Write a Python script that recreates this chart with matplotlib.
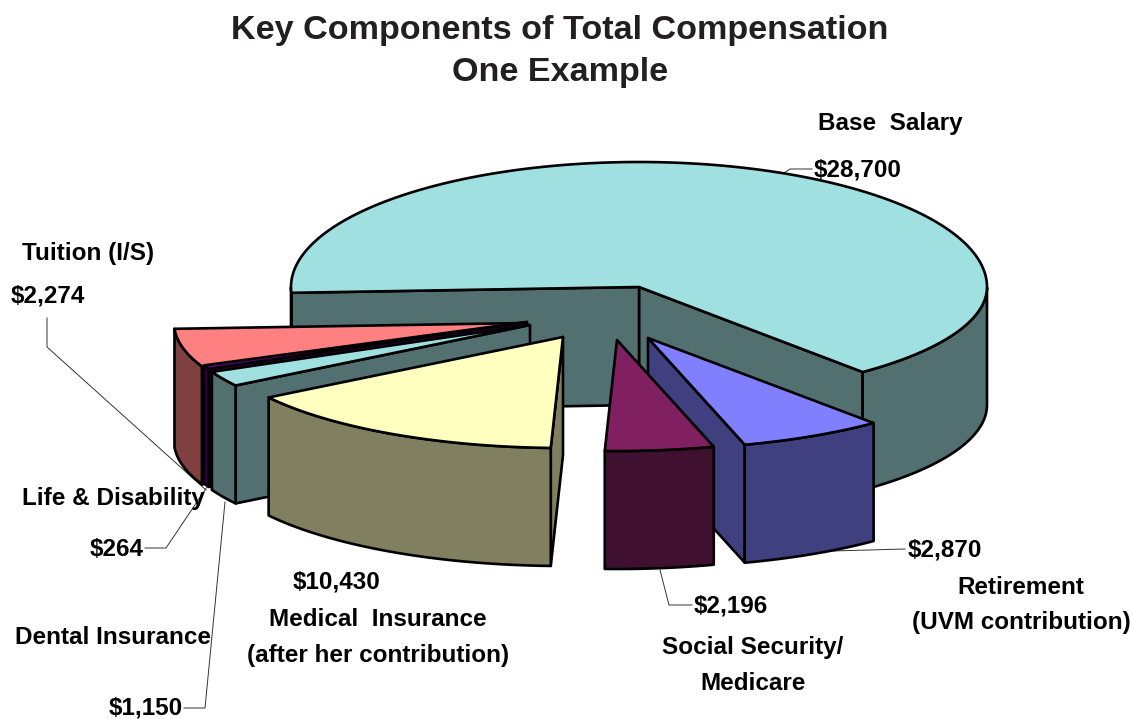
import numpy as np
import matplotlib
matplotlib.use("Agg")
import matplotlib.pyplot as plt
from matplotlib.patches import Polygon

plt.rcParams['font.family'] = ['Liberation Sans', 'DejaVu Sans']

# slices, clockwise from the back-left edge of the base salary wedge
categories = ["Base  Salary", "Retirement\n(UVM contribution)", "Social Security/\nMedicare",
              "Medical  Insurance\n(after her contribution)", "Dental Insurance",
              "Life & Disability", "Tuition (I/S)"]
dollars = [28700, 2870, 2196, 10430, 1150, 264, 2274]
# the wedges in the picture are not quite proportional to the dollars, so the
# widths are read off the picture separately (degrees)
sweep_deg = [233, 24, 18, 55, 8, 2, 20]

top_colors = ["#A0E0E0", "#8080FF", "#802060", "#FFFFC0", "#A0E0E0", "#600080", "#FF8080"]
side_colors = ["#527070", "#404080", "#401030", "#808060", "#527070", "#300040", "#804040"]

# shift of each wedge away from the pie centre, pixels
explode_x = [0, 9, -22, -76, -109, -112, -114]
explode_y = [0, 51, 53, 50, 38, 35, 36]

center_x, center_y = 639, 287
semi_x = 348
semi_x_exploded = 351
semi_back = 125
semi_front = 111
depth = 118
start_deg = -50
edge_width = 1.9
# painter's order
draw_order = [0, 6, 5, 4, 3, 1, 2]


def rim(angle, ox, oy, a):
    # point on the projected pie rim, angle in radians
    s = np.sin(angle)
    b = np.where(s > 0, semi_back, semi_front)
    return ox + a * np.cos(angle), oy - b * s


def face(ax, pts, color, z):
    ax.add_patch(Polygon(pts, closed=True, facecolor=color, edgecolor="black",
                         linewidth=edge_width, joinstyle="round", zorder=z))


def draw_slice(ax, i, a0, a1, z):
    ox = center_x + explode_x[i]
    oy = center_y + explode_y[i]
    a = semi_x if i == 0 else semi_x_exploded
    th = np.radians(np.linspace(a0, a1, 240))
    xs, ys = rim(th, ox, oy, a)

    # cut faces, skipping the one that looks away from the viewer
    ends = [(xs[0], ys[0], xs[-1]), (xs[-1], ys[-1], xs[0])]
    for k, (x, y, other_x) in enumerate(ends):
        other_y = ys[-1] if k == 0 else ys[0]
        cross_down = x - ox
        cross_other = (x - ox) * (other_y - oy) - (y - oy) * (other_x - ox)
        if abs(a1 - a0) < 180 and cross_down * cross_other > 0:
            continue
        face(ax, [(ox, oy), (x, y), (x, y + depth), (ox, oy + depth)], side_colors[i], z)

    # outer wall, one polygon per run of the rim on the front of the pie
    front = np.sin(th) <= 0
    cuts = np.flatnonzero(np.diff(front.astype(int))) + 1
    for run in np.split(np.arange(len(th)), cuts):
        if front[run[0]] and len(run) > 1:
            fx, fy = xs[run], ys[run]
            wall = np.column_stack([np.r_[fx, fx[::-1]], np.r_[fy, (fy + depth)[::-1]]])
            face(ax, wall, side_colors[i], z + 0.1)

    # top
    face(ax, np.column_stack([np.r_[ox, xs], np.r_[oy, ys]]), top_colors[i], z + 0.2)


fig = plt.figure(figsize=(11.32, 7.19), dpi=100)
ax = fig.add_axes([0, 0, 1, 1])
ax.set_xlim(0, 1132)
ax.set_ylim(719, 0)
ax.axis("off")

spans = [(start_deg, start_deg + sweep_deg[0])]
a = start_deg
for w in sweep_deg[1:]:
    spans.append((a, a - w))
    a -= w

for z, i in enumerate(draw_order):
    draw_slice(ax, i, spans[i][0], spans[i][1], z + 1)

# leader lines
leaders = [
    [(770, 182), (790, 169), (812, 169)],
    [(47, 318), (47, 347), (206, 490)],
    [(145, 548), (166, 548), (207, 487)],
    [(184, 708), (205, 708), (225, 502)],
    [(660, 570), (669, 605), (692, 605)],
    [(905, 549), (832, 551), (800, 555)],
]
for pts in leaders:
    px, py = zip(*pts)
    ax.plot(px, py, color="#333333", lw=0.7, zorder=0.5)


def money(v):
    return f"${v:,}"


fs = 17.5
label_pos = [(890, 123.5), (1021, 605), (753, 665.5), (378, 637.5), (113, 637), (113, 499), (88, 253.5)]
value_pos = [(858, 169.5), (945, 549.5), (731, 606.5), (337, 581.5), (146, 708.5), (117, 549.5), (48, 296.5)]
for name, v, lp, vp in zip(categories, dollars, label_pos, value_pos):
    ax.text(lp[0], lp[1], name, ha="center", va="center", fontsize=fs, fontweight="bold",
            linespacing=1.71, zorder=30)
    ax.text(vp[0], vp[1], money(v), ha="center", va="center", fontsize=fs, fontweight="bold", zorder=30)

ax.text(560, 51.5, "Key Components of Total Compensation\nOne Example", ha="center", va="center",
        fontsize=24.6, fontweight="bold", color="#231F20", linespacing=1.455, zorder=30)

fig.savefig("out.png", dpi=100)
